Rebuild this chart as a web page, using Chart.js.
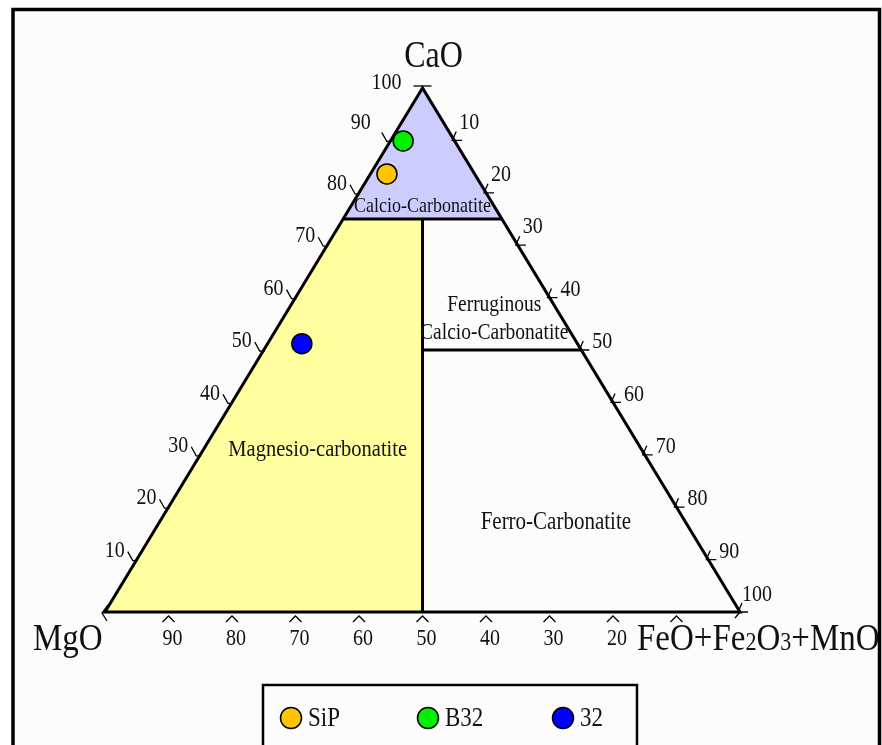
<!DOCTYPE html>
<html>
<head>
<meta charset="utf-8">
<script src="https://cdn.jsdelivr.net/npm/chart.js@4/dist/chart.umd.min.js"></script>
<style>
  html, body { margin: 0; padding: 0; background: #ffffff; }
  #wrap { width: 882px; height: 745px; position: relative; }
</style>
</head>
<body>
<div id="wrap"><canvas id="tern" width="882" height="745"></canvas></div>
<script>
// Sample compositions (wt% of CaO, MgO, FeO+Fe2O3+MnO)
const sampleNames = ['SiP', 'B32', '32'];
const caoValues   = [83.6, 89.9, 51.2];
const mgoValues   = [13.8, 8.1, 43.4];
const feoValues   = [2.6, 2.0, 5.4];
const sampleColors = ['#FFC400', '#00F000', '#0000FF'];

// Axis tick labels
const caoTicks = [10, 20, 30, 40, 50, 60, 70, 80, 90, 100];
const feoTicks = [10, 20, 30, 40, 50, 60, 70, 80, 90, 100];
const mgoTicks = [90, 80, 70, 60, 50, 40, 30, 20, 10];
const mgoTickLabels = ['90', '80', '70', '60', '50', '40', '30', '20', ''];

// Field names
const fieldNames = ['Calcio-Carbonatite', 'Ferruginous', 'Calcio-Carbonatite', 'Magnesio-carbonatite', 'Ferro-Carbonatite'];

const SERIF = '"Liberation Serif", "Times New Roman", serif';
const TEXT_STRETCH = 1.17; // tall, narrow lettering

// ternary (CaO, MgO, FeO) -> cartesian percent (x along base, y = height)
function tern(cao, mgo, feo) {
  const s = cao + mgo + feo;
  return { x: (feo + cao / 2) / s * 100, y: cao / s * 100 };
}

// text drawn with a vertical stretch about its anchor point
function drawText(c, text, x, y, size) {
  c.save();
  c.font = size + 'px ' + SERIF;
  c.translate(x, y);
  c.scale(1, TEXT_STRETCH);
  c.fillText(text, 0, 0);
  c.restore();
}

const datasets = sampleNames.map((name, i) => ({
  label: name,
  data: [tern(caoValues[i], mgoValues[i], feoValues[i])],
  backgroundColor: sampleColors[i],
  borderColor: '#000000',
  borderWidth: 1.5,
  pointRadius: 10,
  pointHoverRadius: 10,
  clip: false
}));

const ternaryPlugin = {
  id: 'ternaryFrame',
  beforeDraw(chart) {
    const c = chart.ctx;
    c.save();
    c.fillStyle = '#ffffff';
    c.fillRect(0, 0, chart.width, chart.height);
    c.fillStyle = '#fcfcfc';
    c.fillRect(13, 10, 866, 760);
    c.strokeStyle = '#000000';
    c.lineWidth = 3.5;
    c.beginPath();
    c.moveTo(13, 760); c.lineTo(13, 9.5); c.lineTo(879.5, 9.5); c.lineTo(879.5, 760);
    c.stroke();
    c.restore();
  },
  beforeDatasetsDraw(chart) {
    const c = chart.ctx;
    const xs = chart.scales.x, ys = chart.scales.y;
    const P = (cao, mgo, feo) => { const t = tern(cao, mgo, feo); return [xs.getPixelForValue(t.x), ys.getPixelForValue(t.y)]; };
    const C = (x, y) => [xs.getPixelForValue(x), ys.getPixelForValue(y)];
    const poly = (pts) => { c.beginPath(); c.moveTo(pts[0][0], pts[0][1]); for (let k = 1; k < pts.length; k++) c.lineTo(pts[k][0], pts[k][1]); };

    c.save();
    // fields
    c.fillStyle = '#CCCCFF';
    poly([P(100, 0, 0), P(75, 25, 0), P(75, 0, 25)]); c.closePath(); c.fill();
    c.fillStyle = '#FFFFA0';
    poly([P(75, 25, 0), P(0, 100, 0), P(0, 50, 50), P(75, 12.5, 12.5)]); c.closePath(); c.fill();

    // field boundaries
    c.strokeStyle = '#000000';
    c.lineWidth = 3;
    c.lineJoin = 'miter';
    poly([P(75, 25, 0), P(75, 0, 25)]); c.stroke();
    poly([P(75, 12.5, 12.5), P(0, 50, 50)]); c.stroke();
    const h50 = P(50, 0, 50);
    poly([P(50, 25, 25), h50]); c.stroke();

    // triangle outline
    poly([P(100, 0, 0), P(0, 100, 0), P(0, 0, 100)]); c.closePath(); c.stroke();

    // tick marks
    c.lineWidth = 1.3;
    caoTicks.forEach(v => {
      const [ex, ey] = P(v, 100 - v, 0);
      if (v === 100) { poly([[ex - 9, ey - 2], [ex + 9, ey - 2]]); c.stroke(); return; }
      poly([[ex - 9, ey - 8], [ex - 4, ey + 1], [ex + 1, ey + 1]]); c.stroke();
    });
    feoTicks.forEach(v => {
      const [ex, ey] = P(100 - v, 0, v);
      poly([[ex + 2, ey - 9], [ex - 2, ey], [ex + 8, ey]]); c.stroke();
    });
    mgoTicks.forEach(v => {
      const [ex, ey] = P(0, v, 100 - v);
      poly([[ex - 6, ey + 10], [ex, ey + 4], [ex + 6, ey + 10]]); c.stroke();
    });
    // corner marks
    const bl = P(0, 100, 0), br = P(0, 0, 100);
    poly([[bl[0] + 3, bl[1] - 7], [bl[0] - 3, bl[1] + 1], [bl[0] + 2, bl[1] + 9]]); c.stroke();
    poly([[br[0] - 5, br[1] + 6], [br[0], br[1]]]); c.stroke();

    // tick labels
    c.fillStyle = '#111111';
    c.textBaseline = 'middle';
    c.textAlign = 'right';
    caoTicks.forEach(v => {
      const [ex, ey] = P(v, 100 - v, 0);
      if (v === 100) drawText(c, String(v), ex - 21, ey - 5, 20);
      else if (v === 90) drawText(c, String(v), ex - 20, ey - 18, 20);
      else drawText(c, String(v), ex - 12, ey - 9, 20);
    });
    c.textAlign = 'left';
    feoTicks.forEach(v => {
      const [ex, ey] = P(100 - v, 0, v);
      if (v === 100) drawText(c, String(v), ex + 2, ey - 17, 20);
      else if (v <= 30) drawText(c, String(v), ex + 5, ey - 18, 20);
      else drawText(c, String(v), ex + 11, ey - 8, 20);
    });
    c.textAlign = 'center';
    mgoTicks.forEach((v, i) => {
      const [ex, ey] = P(0, v, 100 - v);
      drawText(c, mgoTickLabels[i], ex + 4, ey + 27, 20);
    });

    // field names
    c.fillStyle = '#111111';
    let q = C(50, 77.3); drawText(c, fieldNames[0], q[0], q[1], 18);
    q = C(61.3, 58.6); drawText(c, fieldNames[1], q[0], q[1], 19.5);
    q = C(61.3, 53.2); drawText(c, fieldNames[2], q[0], q[1], 19.5);
    q = C(33.5, 30.9); drawText(c, fieldNames[3], q[0], q[1], 20.5);
    q = C(71.0, 17.0); drawText(c, fieldNames[4], q[0], q[1], 21);

    // axis titles
    c.textBaseline = 'alphabetic';
    c.textAlign = 'center';
    const apex = P(100, 0, 0);
    drawText(c, 'CaO', apex[0] + 11, apex[1] - 21, 32);
    c.textAlign = 'left';
    drawText(c, 'MgO', bl[0] - 72, bl[1] + 38, 33);
    // FeO+Fe2O3+MnO with smaller digits
    let x = br[0] - 103;
    const yb = br[1] + 38;
    const parts = [['FeO+Fe', 33], ['2', 22], ['O', 33], ['3', 22], ['+MnO', 33]];
    parts.forEach(([t, s]) => {
      drawText(c, t, x, yb, s);
      c.font = s + 'px ' + SERIF;
      x += c.measureText(t).width;
    });
    c.restore();
  },
  afterDraw(chart) {
    const c = chart.ctx;
    c.save();
    // legend box
    c.strokeStyle = '#000000';
    c.lineWidth = 2.5;
    c.beginPath();
    c.moveTo(263, 760); c.lineTo(263, 685); c.lineTo(637, 685); c.lineTo(637, 760);
    c.stroke();
    const itemX = [291, 428, 563];
    const y = 718;
    chart.data.datasets.forEach((ds, i) => {
      c.beginPath();
      c.arc(itemX[i], y, 10.5, 0, Math.PI * 2);
      c.fillStyle = ds.backgroundColor;
      c.fill();
      c.lineWidth = 1.5;
      c.strokeStyle = '#000000';
      c.stroke();
      c.fillStyle = '#111111';
      c.textAlign = 'left';
      c.textBaseline = 'middle';
      drawText(c, ds.label, itemX[i] + 17, y + 1, 23);
    });
    c.restore();
  }
};

new Chart(document.getElementById('tern'), {
  type: 'scatter',
  data: { datasets },
  options: {
    responsive: false,
    animation: false,
    layout: { padding: { left: 105, right: 142, top: 88, bottom: 133 } },
    scales: {
      x: { type: 'linear', min: 0, max: 100, display: false },
      y: { type: 'linear', min: 0, max: 100, display: false }
    },
    plugins: { legend: { display: false }, tooltip: { enabled: false } }
  },
  plugins: [ternaryPlugin]
});
</script>
</body>
</html>
